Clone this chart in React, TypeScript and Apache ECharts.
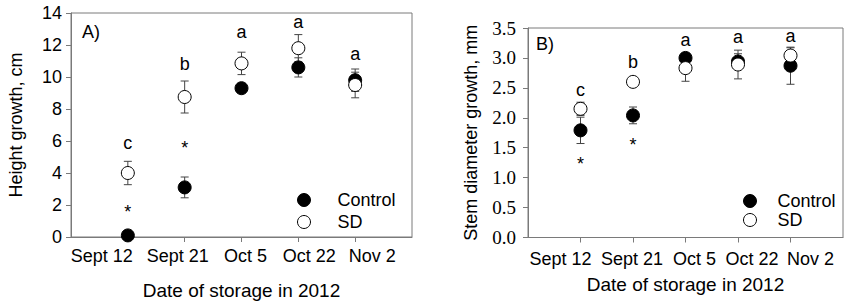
import React, { useEffect, useRef } from "react";
import * as echarts from "echarts";

const categories = ["", "Sept 12", "Sept 21", "Oct 5", "Oct 22", "Nov 2", ""];

// Panel A: height growth (cm)
const heightControl = [0.1, 3.1, 9.3, 10.6, 9.8];
const heightControlErr = [0.1, 0.65, 0.2, 0.6, 0.7];
const heightSD = [4.0, 8.75, 10.85, 11.8, 9.5];
const heightSDErr = [0.73, 1.0, 0.7, 0.85, 0.8];
const heightLetters = ["c", "b", "a", "a", "a"];
const heightLetterY = [5.85, 10.8, 12.8, 13.45, 11.45];
const heightStarY = [1.8, 5.8];

// Panel B: stem diameter growth (mm)
const stemControl = [1.79, 2.04, 3.0, 2.94, 2.87];
const stemControlErr = [0.22, 0.14, 0.05, 0.13, 0.31];
const stemSD = [2.15, 2.6, 2.83, 2.89, 3.04];
const stemSDErr = [0.11, 0.03, 0.22, 0.24, 0.13];
const stemLetters = ["c", "b", "a", "a", "a"];
const stemLetterY = [2.47, 2.94, 3.3, 3.35, 3.37];
const stemStarY = [1.29, 1.61];

// layout: horizontal shift (px) of each tick label, as in the original figure
const labelShiftA = [0, -26, -7, 4, 11, 17, 0];
const labelShiftB = [0, -20, -1, 9, 14, 20, 0];

const SANS = "Liberation Sans, Arial, sans-serif";
const SERIF = "Liberation Serif, Times New Roman, serif";
const GRAY = "#7a7a7a";

function errData(mean: number[], err: number[]) {
  return mean.map((m, i) => [i + 1, m - err[i], m + err[i]]);
}

function pts(vals: number[]) {
  return vals.map((v, i) => [i + 1, v]);
}

const renderErr = (params: any, api: any) => {
  const x = api.value(0);
  const lo = api.coord([x, api.value(1)]);
  const hi = api.coord([x, api.value(2)]);
  const w = 4;
  const style = { stroke: "#444", lineWidth: 1 };
  return {
    type: "group",
    children: [
      { type: "line", shape: { x1: lo[0], y1: lo[1], x2: hi[0], y2: hi[1] }, style },
      { type: "line", shape: { x1: lo[0] - w, y1: lo[1], x2: lo[0] + w, y2: lo[1] }, style },
      { type: "line", shape: { x1: hi[0] - w, y1: hi[1], x2: hi[0] + w, y2: hi[1] }, style },
    ],
  };
};

function panelSeries(
  idx: number,
  control: number[],
  controlErr: number[],
  sd: number[],
  sdErr: number[],
  letters: string[],
  letterY: number[],
  starY: number[]
) {
  const axes = { xAxisIndex: idx, yAxisIndex: idx };
  return [
    {
      type: "custom",
      ...axes,
      renderItem: renderErr,
      data: errData(control, controlErr),
      encode: { x: 0, y: [1, 2] },
      silent: true,
      z: 1,
    },
    {
      type: "custom",
      ...axes,
      renderItem: renderErr,
      data: errData(sd, sdErr),
      encode: { x: 0, y: [1, 2] },
      silent: true,
      z: 1,
    },
    {
      name: "Control",
      type: "scatter",
      ...axes,
      symbol: "circle",
      symbolSize: 13,
      itemStyle: { color: "#000", borderColor: "#000", borderWidth: 1, opacity: 1 },
      data: pts(control),
      z: 3,
    },
    {
      name: "SD",
      type: "scatter",
      ...axes,
      symbol: "circle",
      symbolSize: 13,
      itemStyle: { color: "#fff", borderColor: "#000", borderWidth: 1, opacity: 1 },
      data: pts(sd),
      z: 4,
    },
    {
      type: "scatter",
      ...axes,
      symbolSize: 0,
      silent: true,
      itemStyle: { opacity: 1 },
      label: {
        show: true,
        position: "inside",
        formatter: (p: any) => letters[p.dataIndex],
        fontFamily: SANS,
        fontSize: 18,
        color: "#000",
      },
      data: pts(letterY),
      z: 5,
    },
    {
      type: "scatter",
      ...axes,
      symbolSize: 0,
      silent: true,
      itemStyle: { opacity: 1 },
      label: {
        show: true,
        position: "inside",
        formatter: "*",
        fontFamily: SANS,
        fontSize: 18,
        color: "#000",
        offset: [0, 4],
      },
      data: pts(starY),
      z: 5,
    },
  ];
}

function xAxis(idx: number, margin: number, nameGap: number, shifts: number[]) {
  const rich: any = {};
  shifts.forEach((s, i) => {
    rich["l" + i] = {
      fontFamily: SANS,
      fontSize: 18,
      color: "#000",
      padding: s < 0 ? [0, -2 * s, 0, 0] : [0, 0, 0, 2 * s],
    };
  });
  return {
    type: "category",
    gridIndex: idx,
    data: categories,
    boundaryGap: false,
    axisLine: { lineStyle: { color: GRAY } },
    axisTick: {
      show: true,
      length: 5,
      interval: (i: number) => i > 0 && i < categories.length - 1,
      lineStyle: { color: GRAY },
    },
    axisLabel: {
      interval: 0,
      margin,
      fontFamily: SANS,
      fontSize: 18,
      color: "#000",
      hideOverlap: false,
      formatter: (v: string, i: number) => (v ? `{l${i}|${v}}` : ""),
      rich,
    },
    splitLine: { show: false },
    name: "Date of storage in 2012",
    nameLocation: "middle",
    nameGap,
    nameTextStyle: { fontFamily: SANS, fontSize: 19, color: "#000" },
  };
}

export default function App() {
  const ref = useRef<HTMLDivElement>(null);
  useEffect(() => {
    if (!ref.current) return;
    const chart = echarts.init(ref.current, undefined, { renderer: "svg" });
    chart.setOption({
      animation: false,
      backgroundColor: "#fff",
      grid: [
        { left: 71, top: 13, width: 341, height: 225, show: true, borderColor: GRAY, borderWidth: 1, backgroundColor: "transparent" },
        { left: 528, top: 28, width: 315, height: 209.5, show: true, borderColor: GRAY, borderWidth: 1, backgroundColor: "transparent" },
      ],
      xAxis: [xAxis(0, 10, 44, labelShiftA), xAxis(1, 12, 37, labelShiftB)],
      yAxis: [
        {
          type: "value",
          gridIndex: 0,
          min: 0,
          max: 14,
          interval: 2,
          axisLine: { show: true, lineStyle: { color: GRAY } },
          axisTick: { show: true, length: 5, lineStyle: { color: GRAY } },
          axisLabel: { margin: 9, fontFamily: SANS, fontSize: 18, color: "#000" },
          splitLine: { show: false },
          name: "Height growth, cm",
          nameLocation: "middle",
          nameGap: 46,
          nameTextStyle: { fontFamily: SANS, fontSize: 18, color: "#000" },
        },
        {
          type: "value",
          gridIndex: 1,
          min: 0,
          max: 3.5,
          interval: 0.5,
          axisLine: { show: true, lineStyle: { color: GRAY } },
          axisTick: { show: true, length: 5, lineStyle: { color: GRAY } },
          axisLabel: {
            margin: 12,
            fontFamily: SERIF,
            fontSize: 19,
            color: "#000",
            formatter: (v: number) => v.toFixed(1),
          },
          splitLine: { show: false },
          name: "Stem diameter growth, mm",
          nameLocation: "middle",
          nameGap: 48,
          nameTextStyle: { fontFamily: SANS, fontSize: 18, color: "#000" },
        },
      ],
      legend: [
        {
          data: ["Control", "SD"],
          orient: "vertical",
          left: 292,
          top: 186,
          itemWidth: 13,
          itemHeight: 13,
          itemGap: 4,
          selectedMode: false,
          itemStyle: { borderWidth: 1 },
          textStyle: { fontFamily: SANS, fontSize: 18, color: "#000", padding: [0, 0, 0, 22] },
        },
        {
          data: ["Control", "SD"],
          orient: "vertical",
          left: 738,
          top: 187,
          itemWidth: 13,
          itemHeight: 13,
          itemGap: 1,
          selectedMode: false,
          itemStyle: { borderWidth: 1 },
          textStyle: { fontFamily: SANS, fontSize: 18, color: "#000", padding: [0, 0, 0, 16] },
        },
      ],
      graphic: [
        { type: "text", left: 82, top: 23, style: { text: "A)", font: "18px " + SANS, fill: "#000" } },
        { type: "text", left: 536, top: 35, style: { text: "B)", font: "18px " + SANS, fill: "#000" } },
      ],
      series: [
        ...panelSeries(0, heightControl, heightControlErr, heightSD, heightSDErr, heightLetters, heightLetterY, heightStarY),
        ...panelSeries(1, stemControl, stemControlErr, stemSD, stemSDErr, stemLetters, stemLetterY, stemStarY),
      ],
    });
    return () => chart.dispose();
  }, []);
  return (
    <div
      ref={ref}
      style={{ position: "fixed", left: 0, top: 0, width: 850, height: 305, background: "#fff" }}
    />
  );
}
